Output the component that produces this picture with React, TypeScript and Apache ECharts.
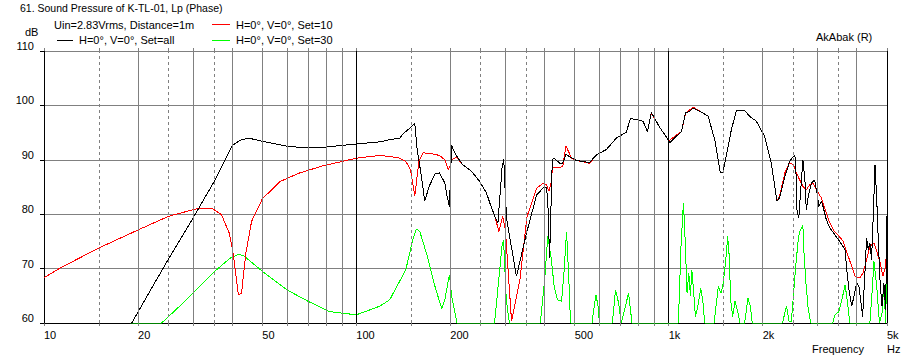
import React, { useEffect, useRef } from "react";
import * as echarts from "echarts";

// Frequency (Hz), SPL (dB)
const setAll: [number, number][] = [
  [10, 60], [19.1, 60], [21.8, 65.8], [25.3, 72.2], [30, 79.3], [35.3, 86.3], [40, 92.6], [42.5, 93.6],
  [45.1, 94.0], [50, 93.4], [60, 92.5], [69, 92.2], [80, 92.35], [100, 92.9], [119, 93.3], [128, 93.7],
  [137.7, 94.0], [141.9, 94.9], [150.3, 96.1], [153.8, 96.8], [156.6, 91.9], [161.6, 86.9], [165.6, 82.4],
  [171, 85.1], [178.6, 87.4], [184.7, 87.6], [192, 85.7], [195.3, 83.3], [198.6, 81.4], [202, 92.8],
  [204, 91.9], [210, 90.6], [219, 89.1], [233.7, 87.9], [248.3, 86.0], [261, 83.9], [270, 81.4],
  [279, 79.3], [284, 78.4], [293, 88.8], [296.5, 90.1], [300, 83.3], [303, 79.0], [325.6, 68.6],
  [350.5, 76.5], [377.6, 83.5], [396, 84.8], [406, 85.0], [410, 82.7], [415.7, 72.0], [424, 90.0],
  [430, 90.3], [447, 89.4], [458, 89.4], [469, 91.0], [480, 90.6], [506, 89.9], [558, 89.5], [587, 90.9],
  [632, 91.9], [680, 94.0], [732, 95.1], [754, 97.6], [800, 97.3], [828, 97.1], [855, 95.2], [880, 98.7],
  [935, 96.0], [1010, 93.2], [1098, 95.2], [1133, 98.7], [1160, 98.8], [1196, 99.5], [1288, 98.6],
  [1338, 98.0], [1404, 93.7], [1464, 87.6], [1493, 87.7], [1587, 95.5], [1647, 99.0], [1751, 99.1],
  [1816, 98.0], [1908, 97.1], [2029, 94.3], [2131, 89.4], [2222, 82.4], [2265, 83.0], [2355, 86.9],
  [2439, 89.7], [2531, 90.9], [2550, 89.9], [2573, 80.8], [2610, 79.3], [2656, 85.7], [2690, 90.0],
  [2730, 86.3], [2758, 80.8], [2798, 83.3], [2865, 85.7], [2932, 86.3], [2983, 83.9], [3027, 81.4],
  [3081, 82.4], [3120, 81.4], [3196, 79.0], [3280, 77.5], [3407, 76.2], [3525, 75.0], [3669, 73.5],
  [3716, 69.8], [3778, 66.1], [3855, 63.1], [3920, 64.9], [3998, 67.4], [4066, 66.7], [4117, 64.3],
  [4178, 61.2], [4249, 69.2], [4302, 75.6], [4355, 73.5], [4408, 74.7], [4462, 71.6], [4518, 79.6],
  [4577, 89.1], [4636, 82.7], [4697, 74.1], [4759, 66.7], [4821, 63.1], [4885, 67.4], [4950, 62.4],
  [5000, 79.6],
];

const set10: [number, number][] = [
  [10, 68.3], [11.25, 70.1], [15, 73.8], [20, 77.1], [25, 79.6], [30.8, 81.0], [34.7, 81.0], [37, 79.9],
  [39.2, 76.5], [40.3, 72.9], [41.9, 65.2], [42.9, 65.5], [44.3, 72.9], [46.2, 78.7], [50, 82.8],
  [56.9, 86.0], [65.9, 87.6], [78.3, 88.9], [100, 90.3], [119, 90.8], [128, 90.6], [137.7, 90.3],
  [144, 89.7], [149, 88.2], [151.6, 85.7], [153.8, 83.3], [155.6, 85.7], [158.6, 89.7], [163.6, 91.3],
  [174.4, 91.1], [184.7, 90.8], [192, 90.0], [197, 88.2], [199.5, 88.8], [202, 90.0], [206, 90.3],
  [210, 90.4], [219, 89.1], [233.7, 87.9], [248.3, 86.0], [261, 83.9], [270, 81.4], [278, 79.5],
  [286, 76.8], [294, 79.6], [300, 77.1], [314, 60.3], [334, 68.0], [352, 79.6], [378, 84.8], [396, 85.7],
  [406, 85.4], [414, 84.2], [420, 85.7], [425, 88.8], [430, 88.5], [447, 88.5], [458, 88.8], [469, 92.5],
  [480, 91.3], [488, 90.3], [506, 89.9], [547, 89.5], [558, 89.3], [587, 90.9], [632, 91.9], [680, 94.0],
  [732, 95.1], [754, 97.6], [800, 97.3], [828, 97.1], [855, 95.2], [880, 98.6], [935, 96.0], [1000, 93.5],
  [1098, 95.2], [1133, 98.5], [1196, 99.7], [1288, 98.6], [1338, 98.0], [1404, 93.7], [1464, 87.6],
  [1493, 87.7], [1587, 95.5], [1647, 99.0], [1751, 99.1], [1816, 98.0], [1908, 97.1], [2029, 94.3],
  [2131, 89.4], [2222, 82.4], [2265, 83.3], [2355, 87.6], [2439, 89.4], [2512, 89.1], [2563, 87.6],
  [2627, 86.3], [2690, 85.1], [2758, 84.5], [2829, 85.4], [2898, 85.7], [2972, 84.5], [3081, 83.0],
  [3196, 80.2], [3280, 78.4], [3366, 77.1], [3482, 76.2], [3622, 75.0], [3760, 72.2], [3855, 70.4],
  [3955, 68.6], [4090, 68.3], [4190, 69.2], [4302, 71.6], [4408, 74.1], [4550, 74.7], [4636, 73.2],
  [4759, 71.0], [4850, 68.6], [4950, 70.4], [5000, 75.3],
];

const set30: [number, number][] = [
  [18.8, 60], [23.8, 60], [27.9, 63.7], [32.4, 67.4], [35.7, 69.8], [39.4, 71.9], [41.9, 72.6],
  [43.5, 72.4], [50, 69.5], [59.9, 66.1], [70, 64.0], [82, 62.1], [100, 61.5], [119, 63.1], [128, 64.3],
  [144, 69.8], [151.6, 75.3], [155.6, 77.3], [159.7, 76.8], [168.9, 72.2], [178.6, 66.7], [187.7, 62.6],
  [192, 64.3], [198.6, 68.9], [202, 64.9], [210, 60], [277, 60], [293, 74.4], [296, 75.3], [302, 64.3],
  [309, 60], [388, 60], [401, 68.0], [410, 75.9], [420, 72.2], [430, 66.7], [440, 64.3], [454, 64.0],
  [462, 69.2], [471, 76.8], [479, 68.0], [485, 60], [568, 60], [585, 65.2], [594, 63.1], [600, 60],
  [660, 60], [676, 66.1], [691, 63.7], [705, 60], [727, 63.1], [744, 65.5], [763, 60], [1074, 60],
  [1095, 74.1], [1115, 82.1], [1129, 75.3], [1145, 65.5], [1160, 69.2], [1174, 64.9], [1186, 69.8],
  [1203, 65.5], [1218, 61.2], [1240, 63.1], [1267, 66.4], [1288, 63.7], [1304, 60], [1397, 60],
  [1442, 66.7], [1471, 65.5], [1496, 67.4], [1523, 71.6], [1545, 75.9], [1563, 72.2], [1579, 64.3],
  [1603, 61.2], [1631, 64.0], [1659, 62.4], [1691, 60], [1751, 60], [1793, 64.6], [1825, 63.1],
  [1852, 60], [2314, 60], [2383, 63.1], [2430, 60.3], [2470, 60.3], [2512, 65.5], [2550, 70.4],
  [2605, 75.9], [2637, 77.1], [2690, 77.9], [2704, 74.1], [2745, 68.0], [2791, 63.1], [2847, 60],
  [3350, 60], [3407, 61.5], [3508, 62.1], [3605, 64.9], [3669, 67.0], [3716, 64.9], [3802, 60],
  [4408, 60], [4485, 66.1], [4540, 71.3], [4636, 66.7], [4730, 60], [4821, 61.8], [4885, 67.4],
  [4950, 60], [5000, 72.2],
];

const xLabelValues = [10, 20, 50, 100, 200, 500, 1000, 2000, 5000];
const gridSolid = [20, 30, 40, 50, 60, 70, 80, 90, 200, 300, 400, 500, 600, 700, 800, 900, 2000, 3000, 4000];
const gridDashed = [15, 25, 35, 150, 250, 350, 1500, 2500, 3500];
const gridBlack = [100, 1000, 5000];
const tickValues = [10, ...gridSolid, ...gridDashed, ...gridBlack];

const FAMILY = "'Liberation Sans', Arial, sans-serif";
const FONT = "11px " + FAMILY;

function gridLines(values: number[], color: string, type: any) {
  return values.map((f) => ({ xAxis: f, lineStyle: { color, width: 1, type } }));
}

export default function App() {
  const ref = useRef<HTMLDivElement>(null);
  useEffect(() => {
    const chart = echarts.init(ref.current!, null, { renderer: "svg" });
    const option: any = {
      animation: false,
      backgroundColor: "#ffffff",
      textStyle: { fontFamily: FAMILY },
      grid: { left: 44, top: 51, width: 843, height: 272, containLabel: false },
      xAxis: [
        {
          type: "log",
          logBase: 10,
          min: 10,
          max: 5000,
          position: "bottom",
          axisLine: { show: true, lineStyle: { color: "#000", width: 1 } },
          axisTick: { show: true, length: 3, customValues: tickValues, lineStyle: { color: "#808080" } },
          splitLine: { show: false },
          minorTick: { show: false },
          axisLabel: {
            customValues: xLabelValues,
            formatter: (v: number) => (v >= 1000 ? v / 1000 + "k" : String(v)),
            align: "left",
            margin: 6,
            fontSize: 11,
            color: "#000",
            fontFamily: FAMILY,
          },
        },
        {
          type: "log",
          logBase: 10,
          min: 10,
          max: 5000,
          position: "top",
          axisLine: { show: false },
          axisTick: { show: true, length: 3, customValues: tickValues, lineStyle: { color: "#808080" } },
          splitLine: { show: false },
          axisLabel: { show: false },
        },
      ],
      yAxis: {
        type: "value",
        min: 60,
        max: 110,
        interval: 10,
        axisLine: { show: true, lineStyle: { color: "#000", width: 1 } },
        axisTick: { show: true, length: 4, lineStyle: { color: "#000" } },
        splitLine: { show: true, lineStyle: { color: "#808080", width: 1 } },
        axisLabel: {
          margin: 10,
          fontSize: 11,
          color: "#000",
          verticalAlign: "bottom",
          lineHeight: 10,
          fontFamily: FAMILY,
        },
      },
      series: [
        {
          type: "line",
          name: "grid",
          data: [[10, 60], [5000, 60]],
          symbol: "none",
          silent: true,
          z: 1,
          lineStyle: { opacity: 0, width: 0 },
          markLine: {
            silent: true,
            symbol: ["none", "none"],
            label: { show: false },
            animation: false,
            data: [
              ...gridLines(gridSolid, "#808080", "solid"),
              ...gridLines(gridDashed, "#808080", [3, 3]),
              ...gridLines(gridBlack, "#000000", "solid"),
            ],
          },
        },
        {
          type: "line",
          name: "H=0°, V=0°, Set=30",
          data: set30,
          symbol: "none",
          z: 2,
          lineStyle: { color: "#00ff00", width: 1 },
        },
        {
          type: "line",
          name: "H=0°, V=0°, Set=10",
          data: set10,
          symbol: "none",
          z: 3,
          lineStyle: { color: "#ff0000", width: 1 },
        },
        {
          type: "line",
          name: "H=0°, V=0°, Set=all",
          data: setAll,
          symbol: "none",
          z: 4,
          lineStyle: { color: "#000000", width: 1 },
        },
      ],
      graphic: [
        { type: "text", x: 20, y: 7.5, style: { text: "61. Sound Pressure of K-TL-01, Lp (Phase)", font: "10.5px " + FAMILY, fill: "#000", textVerticalAlign: "middle" } },
        { type: "text", x: 54, y: 25, style: { text: "Uin=2.83Vrms, Distance=1m", font: FONT, fill: "#000", textVerticalAlign: "middle" } },
        { type: "rect", shape: { x: 212, y: 24, width: 18, height: 1 }, style: { fill: "#ff0000" } },
        { type: "text", x: 236, y: 25, style: { text: "H=0°, V=0°, Set=10", font: FONT, fill: "#000", textVerticalAlign: "middle" } },
        { type: "rect", shape: { x: 57, y: 40, width: 16, height: 1 }, style: { fill: "#000000" } },
        { type: "text", x: 79, y: 40, style: { text: "H=0°, V=0°, Set=all", font: FONT, fill: "#000", textVerticalAlign: "middle" } },
        { type: "rect", shape: { x: 212, y: 40, width: 18, height: 1 }, style: { fill: "#00ff00" } },
        { type: "text", x: 236, y: 40, style: { text: "H=0°, V=0°, Set=30", font: FONT, fill: "#000", textVerticalAlign: "middle" } },
        { type: "text", x: 25, y: 31.5, style: { text: "dB", font: FONT, fill: "#000", textVerticalAlign: "middle" } },
        { type: "text", x: 816, y: 36.5, style: { text: "AkAbak (R)", font: FONT, fill: "#000", textVerticalAlign: "middle" } },
        { type: "text", x: 812, y: 348.5, style: { text: "Frequency", font: FONT, fill: "#000", textVerticalAlign: "middle" } },
        { type: "text", x: 887, y: 348.5, style: { text: "Hz", font: FONT, fill: "#000", textVerticalAlign: "middle" } },
      ],
    };
    chart.setOption(option);
    return () => chart.dispose();
  }, []);
  return (
    <>
      <style>{`.chart-host svg path { shape-rendering: crispEdges; }`}</style>
      <div
        ref={ref}
        className="chart-host"
        style={{ position: "absolute", left: 0, top: 0, width: 914, height: 361, background: "#fff" }}
      />
    </>
  );
}
